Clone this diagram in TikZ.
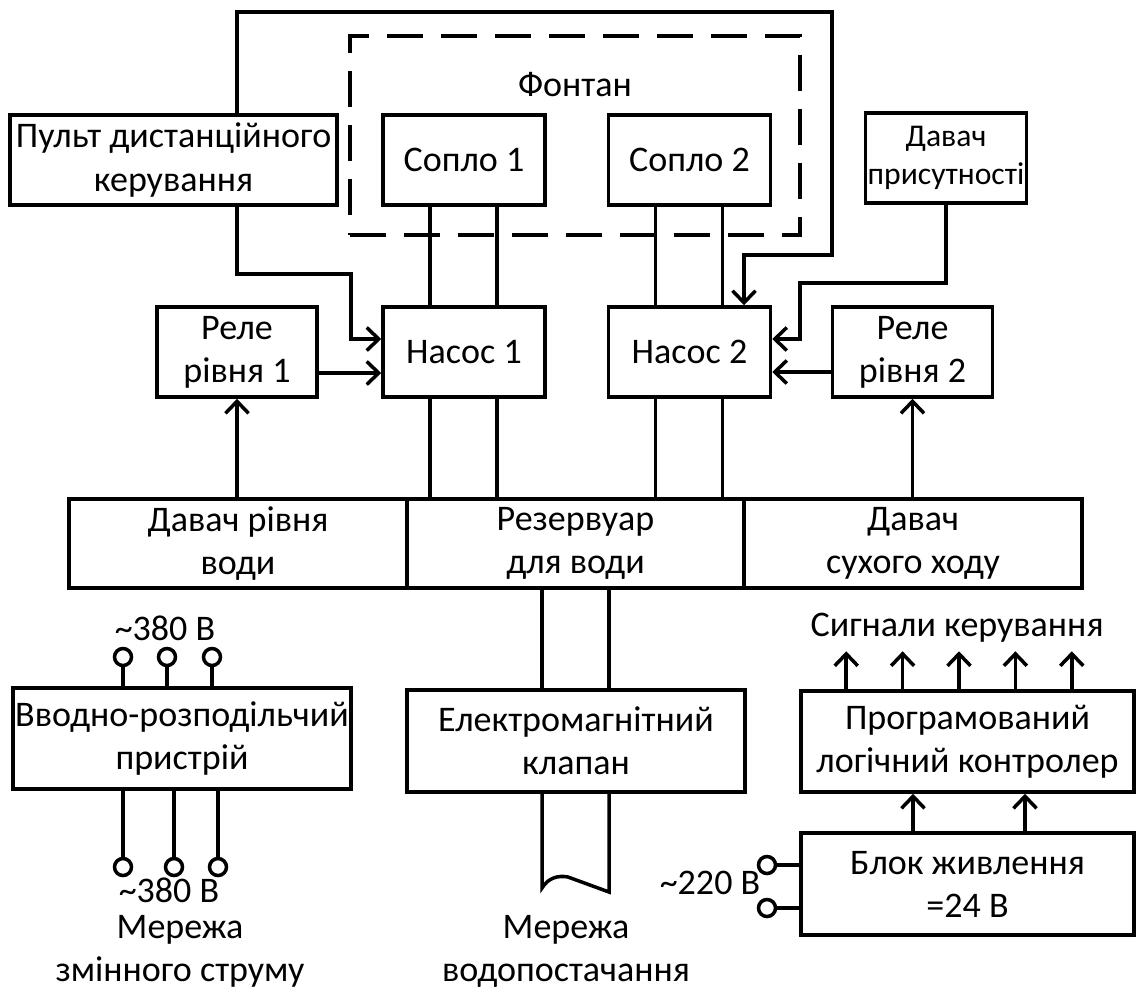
\documentclass[tikz,border=0pt]{standalone}
\usepackage{fontspec}
\setmainfont{Carlito}
\usetikzlibrary{arrows.meta,calc}

\begin{document}
\begin{tikzpicture}[x=0.02cm,y=-0.02cm,line width=2pt,>={Straight Barb[length=2.4mm,width=4.6mm]},
  font=\fontsize{20.5}{24.5}\selectfont,
  blok/.style={draw,align=center,inner sep=1pt},
  kleyma/.style={draw,circle,minimum size=0.34cm,inner sep=0pt},
  napys/.style={align=center,inner sep=0pt}]
  \useasboundingbox (0,0) rectangle (1138,988);
  \node[blok,minimum width=6.54cm,minimum height=1.8cm] (pult) at (173.5,160) {Пульт дистанційного\\керування};
  \node[draw,dash pattern=on 0.72cm off 0.36cm,minimum width=9cm,minimum height=3.98cm] (fontan) at (575,135.5) {};
  \node[napys] (fontannapys) at (575,85) {Фонтан};
  \node[blok,minimum width=3.24cm,minimum height=1.8cm] (soplo1) at (464,160) {Сопло 1};
  \node[blok,minimum width=3.24cm,minimum height=1.8cm] (soplo2) at (689.5,160) {Сопло 2};
  \node[blok,minimum width=3.22cm,minimum height=1.8cm,font=\fontsize{18}{22}\selectfont] (davprys) at (946,158) {Давач\\присутності};
  \node[blok,minimum width=3.2cm,minimum height=1.8cm] (rele1) at (237,352) {Реле\\рівня 1};
  \node[blok,minimum width=3.24cm,minimum height=1.8cm] (nasos1) at (464,352) {Насос 1};
  \node[blok,minimum width=3.24cm,minimum height=1.8cm] (nasos2) at (689.5,352) {Насос 2};
  \node[blok,minimum width=3.2cm,minimum height=1.8cm] (rele2) at (912.5,352) {Реле\\рівня 2};
  \node[blok,minimum width=6.76cm,minimum height=1.78cm] (davrivnia) at (238,543.5) {Давач рівня\\води};
  \node[blok,minimum width=6.74cm,minimum height=1.78cm] (rezervuar) at (575.5,543.5) {Резервуар\\для води};
  \node[blok,minimum width=6.76cm,minimum height=1.78cm] (davsukh) at (913,543.5) {Давач\\сухого ходу};
  \node[blok,minimum width=6.76cm,minimum height=2.02cm] (vrp) at (182,738.5) {Вводно-розподільчий\\пристрій};
  \node[blok,minimum width=6.76cm,minimum height=2.04cm] (klapan) at (576,741) {Електромагнітний\\клапан};
  \node[blok,minimum width=6.66cm,minimum height=2.02cm] (plk) at (967.5,741.5) {Програмований\\логічний контролер};
  \node[blok,minimum width=6.66cm,minimum height=2.04cm] (blokzh) at (967.5,884) {Блок живлення\\=24 В};

  \foreach \n in {1,2}
    \foreach \s in {-0.68cm,0.66cm}
    {
      \draw ([xshift=\s]soplo\n.south) -- ([xshift=\s]nasos\n.north);
      \draw ([xshift=\s]nasos\n.south) -- ([xshift=\s]nasos\n.south |- rezervuar.north);
    }
  \coordinate (povorot) at (744,255);
  \draw[->] (pult.north -| rele1) |- (832,12) |- (povorot) -- (povorot |- nasos2.north);
  \draw[->] (pult.south -| rele1) |- (351,274) |- ([yshift=0.26cm]nasos1.west);
  \draw[->] (davprys.south) |- (800,283) |- ([yshift=0.26cm]nasos2.east);
  \draw[->] ([yshift=-0.42cm]rele1.east) -- ([yshift=-0.42cm]nasos1.west);
  \draw[->] ([yshift=-0.4cm]rele2.west) -- ([yshift=-0.4cm]nasos2.east);
  \draw[->] (rele1 |- davrivnia.north) -- (rele1.south);
  \draw[->] (rele2 |- davsukh.north) -- (rele2.south);

  \node[napys] (napr1) at (165,628) {\textasciitilde380 В};
  \foreach \x/\n in {123/a,167/b,212/c}
  {
    \node[kleyma] (vv\n) at (\x,657) {};
    \draw (vv\n) -- (vv\n |- vrp.north);
  }
  \foreach \x/\n in {123/a,174/b,218/c}
  {
    \node[kleyma] (vn\n) at (\x,867) {};
    \draw (vrp.south -| vn\n) -- (vn\n);
  }
  \node[napys] (napr2) at (169,890) {\textasciitilde380 В};
  \node[napys] (merezha1) at (180,951) {Мережа\\змінного струму};

  \coordinate (trL) at (542,888);
  \coordinate (trR) at (609,892);
  \draw (trL |- rezervuar.south) -- (trL |- klapan.north);
  \draw (trR |- rezervuar.south) -- (trR |- klapan.north);
  \draw (trL |- klapan.south) -- (trL) .. controls (548,878) and (558,875) .. (568,877) -- (trR) -- (trR |- klapan.south);
  \node[napys] (merezha2) at (566,951) {Мережа\\водопостачання};

  \node[napys] (sygnaly) at (957,628) {Сигнали керування};
  \foreach \i in {-2,...,2}
    \draw[->] ([xshift=\i*1.128cm-0.17cm]plk.north) -- ++(0,0.76cm);
  \foreach \s in {-1.09cm,1.15cm}
    \draw[->] ([xshift=\s]blokzh.north) -- ([xshift=\s]plk.south);
  \node[kleyma] (vh1) at (767,865) {};
  \node[kleyma] (vh2) at (767,908) {};
  \draw (vh1) -- (vh1 -| blokzh.west);
  \draw (vh2) -- (vh2 -| blokzh.west);
  \node[napys] (napr3) at (710,883) {\textasciitilde220 В};
\end{tikzpicture}
\end{document}
